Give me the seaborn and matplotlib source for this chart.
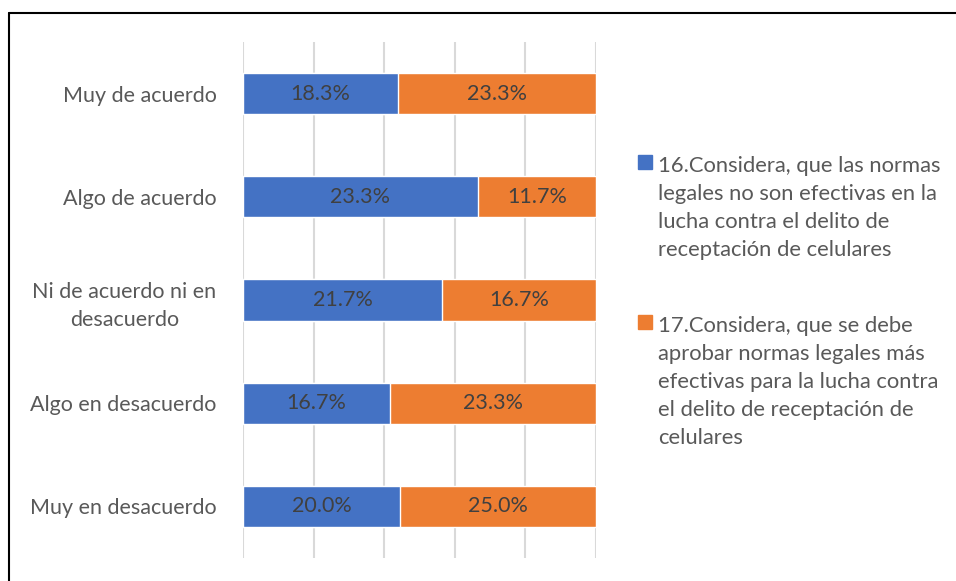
import numpy as np
import pandas as pd
import matplotlib
matplotlib.use("Agg")
import matplotlib.pyplot as plt
from matplotlib.patches import Rectangle
from matplotlib.lines import Line2D
import seaborn as sns

categories = ["Muy de acuerdo", "Algo de acuerdo", "Ni de acuerdo ni en\ndesacuerdo",
              "Algo en desacuerdo", "Muy en desacuerdo"]
q16 = [18.3, 23.3, 21.7, 16.7, 20.0]
q17 = [23.3, 11.7, 16.7, 23.3, 25.0]
series_names = [
    "16.Considera, que las normas\nlegales no son efectivas en la\nlucha contra el delito de\nreceptación de celulares",
    "17.Considera, que se debe\naprobar normas legales más\nefectivas para la lucha contra\nel delito de receptación de\ncelulares",
]
colors = ["#4472c4", "#ed7d31"]

sns.set_theme(style="white")
plt.rcParams['font.family'] = ['Lato', 'DejaVu Sans']

df = pd.DataFrame({"cat": categories, "q16": q16, "q17": q17})
df["total"] = df["q16"] + df["q17"]
df["share16"] = df["q16"] / df["total"]
df["full"] = 1.0

fig = plt.figure(figsize=(9.56, 5.81), dpi=100)
ax = fig.add_axes([243 / 956, 1 - 558 / 581, 353 / 956, 516 / 581])

# orange full bar first, blue share on top (100% stacked)
sns.barplot(data=df, y="cat", x="full", color=colors[1], orient="h",
            width=0.4, saturation=1, ax=ax, zorder=2)
sns.barplot(data=df, y="cat", x="share16", color=colors[0], orient="h",
            width=0.4, saturation=1, ax=ax, zorder=3)

# data labels
for rect, v, s in zip(ax.containers[0], q17, df["share16"]):
    y = rect.get_y() + rect.get_height() / 2
    ax.text((s + 1) / 2, y, f"{v:.1f}%", ha="center", va="center",
            color="#404040", fontsize=15.5, zorder=5)
ax.bar_label(ax.containers[1], labels=[f"{v:.1f}%" for v in q16], label_type="center",
             color="#404040", fontsize=15.5, zorder=5)

ax.set_xlim(0, 1)
ax.set_ylim(4.5, -0.5)
ax.set_xticks(np.arange(0, 1.01, 0.2))
ax.set_xticklabels([])
ax.grid(axis="x", color="#d9d9d9", linewidth=1.5, zorder=0)
ax.set_axisbelow(True)
ax.tick_params(axis="both", length=0)
ax.tick_params(axis="y", pad=19, labelcolor="#595959", labelsize=15.5)
for lbl in ax.get_yticklabels():
    lbl.set_multialignment("center")
    lbl.set_linespacing(1.5)
ax.set_xlabel("")
ax.set_ylabel("")
for sp in ax.spines.values():
    sp.set_visible(False)

# legend drawn at the right, square aligned with first text line
legend_rows = [162, 322]
for name, col, ty in zip(series_names, colors, legend_rows):
    fig.patches.append(Rectangle((638 / 956, 1 - (ty + 7) / 581), 14 / 956, 14 / 581,
                                 transform=fig.transFigure, color=col))
    fig.text(658 / 956, 1 - (ty - 6) / 581, name, ha="left", va="top",
             color="#595959", fontsize=15.8, linespacing=1.5)

# outer frame
fig.add_artist(Line2D([9 / 956, 9 / 956], [0, 1 - 13 / 581], color="black", linewidth=1.5,
                      transform=fig.transFigure))
fig.add_artist(Line2D([9 / 956, 1], [1 - 13 / 581, 1 - 13 / 581], color="black", linewidth=1.5,
                      transform=fig.transFigure))

fig.savefig("out.png", dpi=100)
